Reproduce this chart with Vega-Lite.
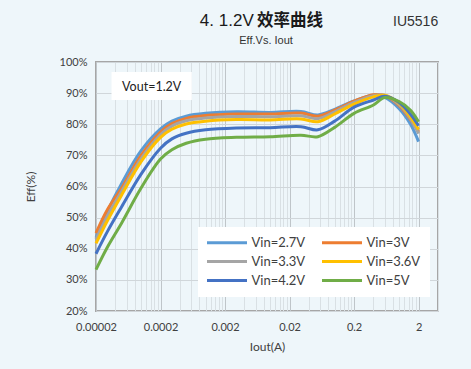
{
  "$schema": "https://vega.github.io/schema/vega-lite/v6.json",
  "width": 342,
  "height": 249,
  "autosize": {"type": "none"},
  "padding": {"left": 96, "top": 62, "right": 33, "bottom": 58},
  "background": "#EEF6FA",
  "config": {
    "view": {"stroke": "#A6A6A6", "strokeWidth": 2, "fill": "#EEF6FA"},
    "font": "Lato"
  },
  "datasets": {
    "eff": [
      {"I": 0.00002, "eff": 43.5, "s": "Vin=2.7V"}, {"I": 0.00003, "eff": 52, "s": "Vin=2.7V"}, {"I": 0.00005, "eff": 61, "s": "Vin=2.7V"}, {"I": 0.0001, "eff": 71.5, "s": "Vin=2.7V"}, {"I": 0.0002, "eff": 78.5, "s": "Vin=2.7V"}, {"I": 0.0003, "eff": 81, "s": "Vin=2.7V"}, {"I": 0.0005, "eff": 82.6, "s": "Vin=2.7V"}, {"I": 0.001, "eff": 83.5, "s": "Vin=2.7V"}, {"I": 0.003, "eff": 84, "s": "Vin=2.7V"}, {"I": 0.01, "eff": 83.8, "s": "Vin=2.7V"}, {"I": 0.03, "eff": 84.1, "s": "Vin=2.7V"}, {"I": 0.055, "eff": 83, "s": "Vin=2.7V"}, {"I": 0.1, "eff": 84.8, "s": "Vin=2.7V"}, {"I": 0.2, "eff": 87.5, "s": "Vin=2.7V"}, {"I": 0.4, "eff": 89.3, "s": "Vin=2.7V"}, {"I": 0.6, "eff": 88.6, "s": "Vin=2.7V"}, {"I": 1, "eff": 85, "s": "Vin=2.7V"}, {"I": 1.5, "eff": 80, "s": "Vin=2.7V"}, {"I": 2, "eff": 74.4, "s": "Vin=2.7V"},
      {"I": 0.00002, "eff": 45, "s": "Vin=3V"}, {"I": 0.00003, "eff": 52.5, "s": "Vin=3V"}, {"I": 0.00005, "eff": 59.5, "s": "Vin=3V"}, {"I": 0.0001, "eff": 70, "s": "Vin=3V"}, {"I": 0.0002, "eff": 77.5, "s": "Vin=3V"}, {"I": 0.0003, "eff": 80.2, "s": "Vin=3V"}, {"I": 0.0005, "eff": 81.9, "s": "Vin=3V"}, {"I": 0.001, "eff": 82.8, "s": "Vin=3V"}, {"I": 0.003, "eff": 83.3, "s": "Vin=3V"}, {"I": 0.01, "eff": 83.3, "s": "Vin=3V"}, {"I": 0.03, "eff": 83.6, "s": "Vin=3V"}, {"I": 0.055, "eff": 82.6, "s": "Vin=3V"}, {"I": 0.1, "eff": 84.5, "s": "Vin=3V"}, {"I": 0.2, "eff": 87.4, "s": "Vin=3V"}, {"I": 0.4, "eff": 89.5, "s": "Vin=3V"}, {"I": 0.6, "eff": 89.2, "s": "Vin=3V"}, {"I": 1, "eff": 86, "s": "Vin=3V"}, {"I": 1.5, "eff": 81.5, "s": "Vin=3V"}, {"I": 2, "eff": 77.5, "s": "Vin=3V"},
      {"I": 0.00002, "eff": 43, "s": "Vin=3.3V"}, {"I": 0.00003, "eff": 50.5, "s": "Vin=3.3V"}, {"I": 0.00005, "eff": 58.5, "s": "Vin=3.3V"}, {"I": 0.0001, "eff": 69, "s": "Vin=3.3V"}, {"I": 0.0002, "eff": 76.7, "s": "Vin=3.3V"}, {"I": 0.0003, "eff": 79.4, "s": "Vin=3.3V"}, {"I": 0.0005, "eff": 81.1, "s": "Vin=3.3V"}, {"I": 0.001, "eff": 82, "s": "Vin=3.3V"}, {"I": 0.003, "eff": 82.5, "s": "Vin=3.3V"}, {"I": 0.01, "eff": 82.4, "s": "Vin=3.3V"}, {"I": 0.03, "eff": 82.7, "s": "Vin=3.3V"}, {"I": 0.055, "eff": 81.8, "s": "Vin=3.3V"}, {"I": 0.1, "eff": 84, "s": "Vin=3.3V"}, {"I": 0.2, "eff": 87, "s": "Vin=3.3V"}, {"I": 0.4, "eff": 89.2, "s": "Vin=3.3V"}, {"I": 0.6, "eff": 89.3, "s": "Vin=3.3V"}, {"I": 1, "eff": 86.3, "s": "Vin=3.3V"}, {"I": 1.5, "eff": 81.8, "s": "Vin=3.3V"}, {"I": 2, "eff": 77, "s": "Vin=3.3V"},
      {"I": 0.00002, "eff": 41.7, "s": "Vin=3.6V"}, {"I": 0.00003, "eff": 49, "s": "Vin=3.6V"}, {"I": 0.00005, "eff": 57.3, "s": "Vin=3.6V"}, {"I": 0.0001, "eff": 68, "s": "Vin=3.6V"}, {"I": 0.0002, "eff": 75.8, "s": "Vin=3.6V"}, {"I": 0.0003, "eff": 78.4, "s": "Vin=3.6V"}, {"I": 0.0005, "eff": 80.1, "s": "Vin=3.6V"}, {"I": 0.001, "eff": 81, "s": "Vin=3.6V"}, {"I": 0.003, "eff": 81.5, "s": "Vin=3.6V"}, {"I": 0.01, "eff": 81.4, "s": "Vin=3.6V"}, {"I": 0.03, "eff": 81.7, "s": "Vin=3.6V"}, {"I": 0.055, "eff": 80.8, "s": "Vin=3.6V"}, {"I": 0.1, "eff": 83.3, "s": "Vin=3.6V"}, {"I": 0.2, "eff": 86.5, "s": "Vin=3.6V"}, {"I": 0.4, "eff": 88.8, "s": "Vin=3.6V"}, {"I": 0.6, "eff": 89.3, "s": "Vin=3.6V"}, {"I": 1, "eff": 86.7, "s": "Vin=3.6V"}, {"I": 1.5, "eff": 82.3, "s": "Vin=3.6V"}, {"I": 2, "eff": 78.3, "s": "Vin=3.6V"},
      {"I": 0.00002, "eff": 38.4, "s": "Vin=4.2V"}, {"I": 0.00003, "eff": 45.5, "s": "Vin=4.2V"}, {"I": 0.00005, "eff": 53.5, "s": "Vin=4.2V"}, {"I": 0.0001, "eff": 64, "s": "Vin=4.2V"}, {"I": 0.0002, "eff": 72.3, "s": "Vin=4.2V"}, {"I": 0.0003, "eff": 75.3, "s": "Vin=4.2V"}, {"I": 0.0005, "eff": 77.1, "s": "Vin=4.2V"}, {"I": 0.001, "eff": 78.2, "s": "Vin=4.2V"}, {"I": 0.003, "eff": 78.8, "s": "Vin=4.2V"}, {"I": 0.01, "eff": 78.9, "s": "Vin=4.2V"}, {"I": 0.03, "eff": 79.2, "s": "Vin=4.2V"}, {"I": 0.055, "eff": 78.2, "s": "Vin=4.2V"}, {"I": 0.1, "eff": 81, "s": "Vin=4.2V"}, {"I": 0.2, "eff": 85.5, "s": "Vin=4.2V"}, {"I": 0.4, "eff": 87.8, "s": "Vin=4.2V"}, {"I": 0.6, "eff": 89, "s": "Vin=4.2V"}, {"I": 1, "eff": 87, "s": "Vin=4.2V"}, {"I": 1.5, "eff": 83.2, "s": "Vin=4.2V"}, {"I": 2, "eff": 79.5, "s": "Vin=4.2V"},
      {"I": 0.00002, "eff": 33.3, "s": "Vin=5V"}, {"I": 0.00003, "eff": 40.5, "s": "Vin=5V"}, {"I": 0.00005, "eff": 48.3, "s": "Vin=5V"}, {"I": 0.0001, "eff": 59.5, "s": "Vin=5V"}, {"I": 0.0002, "eff": 68.8, "s": "Vin=5V"}, {"I": 0.0003, "eff": 71.8, "s": "Vin=5V"}, {"I": 0.0005, "eff": 73.9, "s": "Vin=5V"}, {"I": 0.001, "eff": 75.2, "s": "Vin=5V"}, {"I": 0.003, "eff": 75.8, "s": "Vin=5V"}, {"I": 0.01, "eff": 76, "s": "Vin=5V"}, {"I": 0.03, "eff": 76.5, "s": "Vin=5V"}, {"I": 0.055, "eff": 76, "s": "Vin=5V"}, {"I": 0.1, "eff": 79, "s": "Vin=5V"}, {"I": 0.2, "eff": 83.5, "s": "Vin=5V"}, {"I": 0.4, "eff": 86.2, "s": "Vin=5V"}, {"I": 0.6, "eff": 88.6, "s": "Vin=5V"}, {"I": 1, "eff": 87.3, "s": "Vin=5V"}, {"I": 1.5, "eff": 84.5, "s": "Vin=5V"}, {"I": 2, "eff": 80.8, "s": "Vin=5V"}
    ],
    "notes": [
      {"I": 0.000814, "eff": 113.3, "t": "4. 1.2V", "k": "title"},
      {"I": 0.00627, "eff": 113.3, "t": "效率曲线", "k": "cjk"},
      {"I": 1.8, "eff": 112.85, "t": "IU5516", "k": "id"},
      {"I": 0.00865, "eff": 106.7, "t": "Eff.Vs. Iout", "k": "sub"},
      {"I": 0.000146, "eff": 92.0, "t": "Vout=1.2V", "k": "vout"}
    ]
  },
  "encoding": {
    "x": {
      "field": "I", "type": "quantitative",
      "scale": {"type": "log", "domain": [0.00002, 4], "nice": false, "zero": false},
      "axis": {
        "title": "Iout(A)",
        "values": [0.00002, 0.00004, 0.00006, 0.00008, 0.0001, 0.00012, 0.00014, 0.00016, 0.00018, 0.0002, 0.0004, 0.0006, 0.0008, 0.001, 0.0012, 0.0014, 0.0016, 0.0018, 0.002, 0.004, 0.006, 0.008, 0.01, 0.012, 0.014, 0.016, 0.018, 0.02, 0.04, 0.06, 0.08, 0.1, 0.12, 0.14, 0.16, 0.18, 0.2, 0.4, 0.6, 0.8, 1, 1.2, 1.4, 1.6, 1.8, 2, 4],
        "labelExpr": "indexof([0.00002, 0.0002, 0.002, 0.02, 0.2, 2], datum.value) >= 0 ? format(datum.value, '~f') : ''",
        "labelOverlap": false,
        "labelFlush": false,
        "labelBound": false,
        "labelFont": "Lato", "labelFontSize": 11, "labelColor": "#404040", "labelPadding": 10,
        "ticks": false, "domain": false,
        "grid": true,
        "gridColor": {"condition": {"test": "indexof([0.00002, 0.0002, 0.002, 0.02, 0.2, 2], datum.value) >= 0", "value": "#BFC5C9"}, "value": "#D9E0E4"},
        "gridWidth": 1,
        "titleFont": "Lato", "titleFontSize": 12, "titleFontWeight": "normal", "titleColor": "#404040", "titlePadding": 9
      }
    },
    "y": {
      "field": "eff", "type": "quantitative",
      "scale": {"domain": [20, 100], "nice": false},
      "axis": {
        "title": "Eff(%)",
        "values": [20, 30, 40, 50, 60, 70, 80, 90, 100],
        "labelExpr": "datum.value + '%'",
        "labelFont": "Lato", "labelFontSize": 11, "labelColor": "#404040", "labelPadding": 9,
        "ticks": false, "domain": false,
        "grid": true, "gridColor": "#D0D6DA", "gridWidth": 1,
        "titleFont": "Lato", "titleFontSize": 12, "titleFontWeight": "normal", "titleColor": "#404040", "titlePadding": 22
      }
    }
  },
  "layer": [
    {
      "data": {"values": [{"I": 0.0000348, "I2": 0.000611, "eff": 87.8, "eff2": 96.8}]},
      "mark": {"type": "rect", "fill": "white"},
      "encoding": {
        "x2": {"field": "I2"},
        "y2": {"field": "eff2"}
      }
    },
    {
      "data": {"name": "eff"},
      "mark": {"type": "line", "strokeWidth": 3, "interpolate": "catmull-rom"},
      "encoding": {
        "color": {
          "field": "s", "type": "nominal",
          "scale": {
            "domain": ["Vin=2.7V", "Vin=3V", "Vin=3.3V", "Vin=3.6V", "Vin=4.2V", "Vin=5V"],
            "range": ["#5B9BD5", "#ED7D31", "#A5A5A5", "#FFC000", "#4472C4", "#70AD47"]
          },
          "legend": {
            "title": null,
            "orient": "none",
            "legendX": 102,
            "legendY": 165,
            "direction": "horizontal",
            "columns": 2,
            "symbolType": "M-4,0H4",
            "symbolSize": 100,
            "symbolOffset": 13.5,
            "symbolStrokeWidth": 3,
            "labelFont": "Lato",
            "labelFontSize": 13,
            "labelColor": "#404040",
            "labelOffset": 18,
            "columnPadding": 10,
            "rowPadding": 5,
            "fillColor": "white",
            "padding": 9
          }
        }
      }
    },
    {
      "data": {"name": "notes"},
      "transform": [{"filter": "datum.k == 'vout'"}],
      "mark": {"type": "text", "font": "Lato", "fontSize": 12.5, "color": "#222222", "align": "center", "baseline": "middle"},
      "encoding": {"text": {"field": "t"}}
    },
    {
      "data": {"name": "notes"},
      "transform": [{"filter": "datum.k == 'title'"}],
      "mark": {"type": "text", "font": "Liberation Sans", "fontSize": 17, "color": "#1A1A1A", "align": "left", "baseline": "middle"},
      "encoding": {"text": {"field": "t"}}
    },
    {
      "data": {"name": "notes"},
      "transform": [{"filter": "datum.k == 'cjk'"}],
      "mark": {"type": "text", "font": "Noto Sans CJK SC", "fontSize": 16.5, "fontWeight": "bold", "color": "#1A1A1A", "align": "left", "baseline": "middle"},
      "encoding": {"text": {"field": "t"}}
    },
    {
      "data": {"name": "notes"},
      "transform": [{"filter": "datum.k == 'id'"}],
      "mark": {"type": "text", "font": "Liberation Sans", "fontSize": 14, "color": "#333333", "align": "center", "baseline": "middle"},
      "encoding": {"text": {"field": "t"}}
    },
    {
      "data": {"name": "notes"},
      "transform": [{"filter": "datum.k == 'sub'"}],
      "mark": {"type": "text", "font": "Liberation Sans", "fontSize": 11, "color": "#333333", "align": "center", "baseline": "middle"},
      "encoding": {"text": {"field": "t"}}
    }
  ]
}
